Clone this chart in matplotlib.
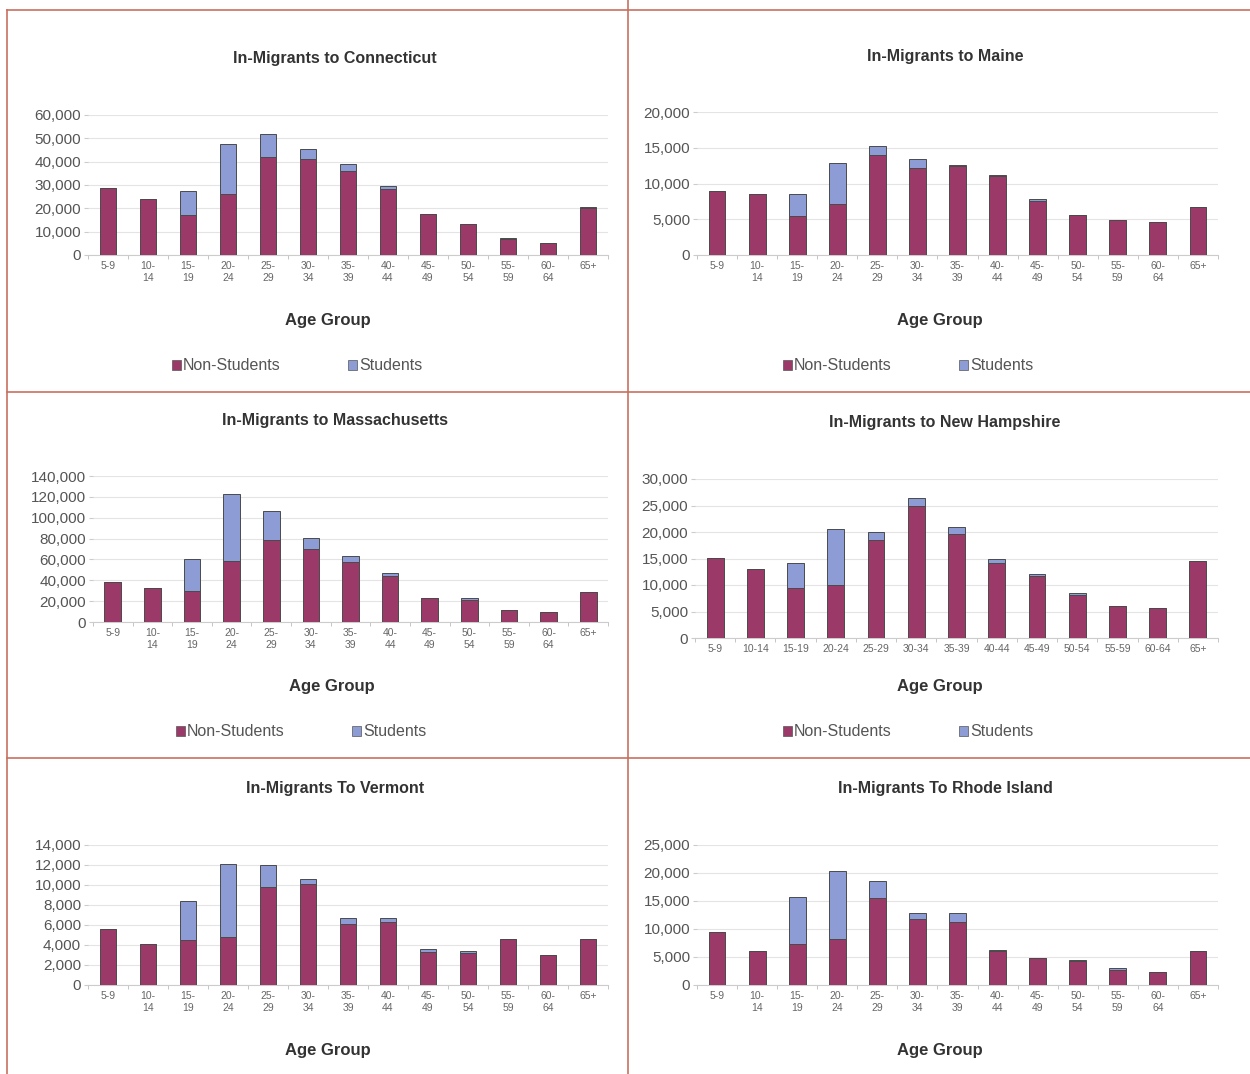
import matplotlib
matplotlib.use('Agg')
import matplotlib.pyplot as plt
from matplotlib import font_manager
from matplotlib.lines import Line2D
from matplotlib.patches import Patch
import numpy as np

# age group labels
ages_wrapped = ["5-9", "10-\n14", "15-\n19", "20-\n24", "25-\n29", "30-\n34", "35-\n39",
                "40-\n44", "45-\n49", "50-\n54", "55-\n59", "60-\n64", "65+"]
ages_flat = ["5-9", "10-14", "15-19", "20-24", "25-29", "30-34", "35-39",
             "40-44", "45-49", "50-54", "55-59", "60-64", "65+"]

# values (people)
ct_non = [28600, 23900, 17100, 26100, 41900, 41000, 36100, 28100, 17400, 13100, 7000, 5000, 20300]
ct_stu = [0, 0, 10300, 21300, 10100, 4400, 2800, 1500, 200, 200, 100, 0, 100]

me_non = [9000, 8500, 5400, 7100, 14000, 12200, 12500, 11000, 7600, 5600, 4900, 4650, 6650]
me_stu = [0, 0, 3100, 5800, 1200, 1200, 150, 200, 200, 0, 0, 0, 0]

ma_non = [38500, 32500, 29900, 58900, 78600, 70300, 57900, 44500, 22900, 21000, 11800, 9500, 28600]
ma_stu = [0, 0, 30200, 63900, 27700, 10500, 5400, 2900, 0, 1900, 0, 0, 0]

nh_non = [15100, 13100, 9500, 10000, 18400, 25000, 19700, 14200, 11700, 8100, 6100, 5600, 14500]
nh_stu = [0, 0, 4600, 10600, 1600, 1400, 1300, 800, 300, 300, 0, 0, 0]

vt_non = [5570, 4070, 4500, 4830, 9830, 10100, 6070, 6270, 3300, 3200, 4600, 3000, 4600]
vt_stu = [0, 0, 3930, 7240, 2170, 470, 600, 400, 270, 200, 0, 0, 0]

ri_non = [9500, 6100, 7400, 8200, 15500, 11700, 11300, 6000, 4900, 4200, 2700, 2400, 6100]
ri_stu = [0, 0, 8300, 12200, 3000, 1200, 1600, 200, 0, 200, 400, 0, 0]

NON_COLOR = '#9b3a68'
STU_COLOR = '#8e9cd6'
FRAME_COLOR = '#c8705f'

W, H = 1250, 1074

installed = {f.name for f in font_manager.fontManager.ttflist}
FONT = 'Liberation Sans' if 'Liberation Sans' in installed else 'DejaVu Sans'
plt.rcParams['font.family'] = [FONT, 'DejaVu Sans']


def fx(x):
    return x / W


def fy(y):
    return 1 - y / H


def draw_panel(fig, box, title, labels, non, stu, ymax, ystep,
               title_xy, xlabel_xy, legend_xy=None):
    left, top, right, bottom = box
    ax = fig.add_axes([fx(left), fy(bottom), fx(right - left), (bottom - top) / H])
    x = np.arange(len(labels))
    ax.bar(x, non, width=0.42, color=NON_COLOR, edgecolor='#4a4a4a', linewidth=0.7, zorder=3)
    ax.bar(x, stu, width=0.42, bottom=non, color=STU_COLOR, edgecolor='#4a4a4a',
           linewidth=0.7, zorder=3)

    ax.set_xlim(-0.5, len(labels) - 0.5)
    ax.set_ylim(0, ymax)
    ax.set_yticks(np.arange(0, ymax + 1, ystep))
    ax.set_yticklabels([f"{int(v):,}" for v in np.arange(0, ymax + 1, ystep)])
    ax.set_xticks(x)
    ax.set_xticklabels(labels, fontsize=7.5, color='#666666', linespacing=1.3)
    ax.set_xticks(np.arange(-0.5, len(labels), 1), minor=True)
    ax.tick_params(axis='x', which='major', length=0, pad=4)
    ax.tick_params(axis='x', which='minor', length=3, color='#bbbbbb')
    ax.tick_params(axis='y', length=3, color='#cccccc', labelsize=11,
                   labelcolor='#555555', pad=2)

    ax.grid(axis='y', color='#e4e4e4', linewidth=0.8, zorder=0)
    for side in ['top', 'right', 'left']:
        ax.spines[side].set_visible(False)
    ax.spines['bottom'].set_color('#cccccc')

    fig.text(fx(title_xy[0]), fy(title_xy[1]), title, ha='center', va='center',
             fontsize=11.5, fontweight='bold', color='#333333')
    fig.text(fx(xlabel_xy[0]), fy(xlabel_xy[1]), "Age Group", ha='center', va='center',
             fontsize=12, fontweight='bold', color='#333333')

    if legend_xy is not None:
        handles = [Patch(facecolor=NON_COLOR, edgecolor='#555555', linewidth=0.5),
                   Patch(facecolor=STU_COLOR, edgecolor='#555555', linewidth=0.5)]
        ax.legend(handles, ["Non-Students", "Students"], ncol=2, loc='center left',
                  bbox_to_anchor=(fx(legend_xy[0]), fy(legend_xy[1])),
                  bbox_transform=fig.transFigure, frameon=False, fontsize=11.5,
                  labelcolor='#555555', handlelength=0.55, handleheight=0.55,
                  handletextpad=0.15, columnspacing=4.2, borderpad=0, borderaxespad=0)
    return ax


fig = plt.figure(figsize=(W / 100, H / 100), dpi=100)

draw_panel(fig, (88, 115, 608, 255), "In-Migrants to Connecticut", ages_wrapped,
           ct_non, ct_stu, 60000, 10000, (335, 58), (328, 320), (172, 366))
draw_panel(fig, (697, 112, 1218, 255), "In-Migrants to Maine", ages_wrapped,
           me_non, me_stu, 20000, 5000, (945, 57), (940, 320), (783, 366))
draw_panel(fig, (93, 476, 608, 622), "In-Migrants to Massachusetts", ages_wrapped,
           ma_non, ma_stu, 140000, 20000, (335, 421), (332, 687), (176, 732))
draw_panel(fig, (695, 479, 1218, 638), "In-Migrants to New Hampshire", ages_flat,
           nh_non, nh_stu, 30000, 5000, (945, 423), (940, 687), (783, 732))
draw_panel(fig, (88, 845, 608, 985), "In-Migrants To Vermont", ages_wrapped,
           vt_non, vt_stu, 14000, 2000, (335, 788), (328, 1051))
draw_panel(fig, (697, 845, 1218, 985), "In-Migrants To Rhode Island", ages_wrapped,
           ri_non, ri_stu, 25000, 5000, (945, 789), (940, 1051))

# panel frame lines
frame = [((7, 1250), (10, 10)), ((7, 1250), (392, 392)), ((7, 1250), (758, 758)),
         ((7, 7), (10, 1074)), ((628, 628), (0, 1074))]
for xs, ys in frame:
    fig.add_artist(Line2D([fx(v) for v in xs], [fy(v) for v in ys],
                          transform=fig.transFigure, color=FRAME_COLOR, linewidth=1.2))

fig.savefig('out.png', dpi=100, facecolor='white')
